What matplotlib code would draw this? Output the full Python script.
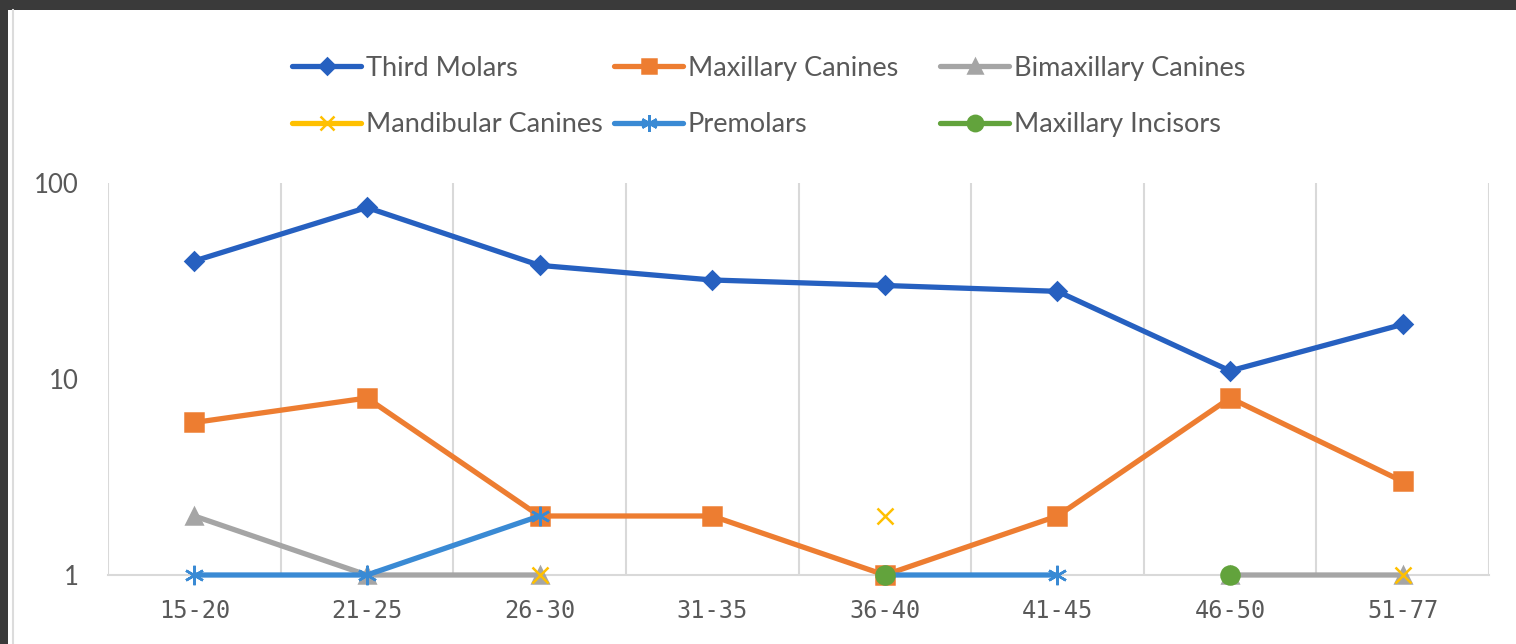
import numpy as np
import matplotlib
matplotlib.use('Agg')
import matplotlib.pyplot as plt
from matplotlib.patches import Rectangle
from matplotlib.lines import Line2D
from matplotlib.ticker import FixedLocator, NullLocator, FixedFormatter

plt.rcParams['font.family'] = ['Lato', 'DejaVu Sans']

nan = np.nan
age_groups = ['15-20', '21-25', '26-30', '31-35', '36-40', '41-45', '46-50', '51-77']

third_molars = [40, 75, 38, 32, 30, 28, 11, 19]
maxillary_canines = [6, 8, 2, 2, 1, 2, 8, 3]
bimaxillary_canines = [2, 1, 1, nan, nan, nan, 1, 1]
mandibular_canines = [nan, nan, 1, nan, 2, nan, nan, 1]
premolars = [1, 1, 2, nan, 1, 1, nan, nan]
maxillary_incisors = [nan, nan, nan, nan, 1, nan, 1, nan]

text_color = '#595959'
grid_color = '#d9d9d9'

# name, values, color, marker, markersize
series = [
    ('Third Molars', third_molars, '#2660c0', 'D', 9),
    ('Maxillary Canines', maxillary_canines, '#ed7d31', 's', 12.5),
    ('Bimaxillary Canines', bimaxillary_canines, '#a5a5a5', '^', 12),
    ('Mandibular Canines', mandibular_canines, '#ffc000', 'x', 12),
    ('Premolars', premolars, '#3a8ad4', (6, 2, 0), 14),
    ('Maxillary Incisors', maxillary_incisors, '#62a33c', 'o', 13),
]

fig = plt.figure(figsize=(15.16, 6.44), dpi=100)
fig.patch.set_facecolor('#3a3a3a')
fig.patches.append(Rectangle((8 / 1516, 0), 1 - 8 / 1516, 1 - 10 / 644,
                             transform=fig.transFigure, facecolor='white',
                             edgecolor='none', zorder=-10))
fig.lines.append(Line2D([12.5 / 1516, 12.5 / 1516], [0, 1 - 10 / 644],
                        transform=fig.transFigure, color='#dcdcdc', lw=1.5))

ax = fig.add_axes([108 / 1516, 1 - 575 / 644, (1489 - 108) / 1516, (575 - 183) / 644])
ax.set_facecolor('none')

x = np.arange(len(age_groups))
handles = {}
for name, vals, color, marker, ms in series:
    h, = ax.plot(x, vals, color=color, lw=3.8, marker=marker, markersize=ms,
                 markerfacecolor=color, markeredgecolor=color, markeredgewidth=1.8,
                 label=name, solid_capstyle='round', clip_on=False)
    handles[name] = h

ax.set_yscale('log')
ax.set_ylim(1, 100)
ax.set_xlim(-0.5, len(age_groups) - 0.5)
ax.yaxis.set_major_locator(FixedLocator([1, 10, 100]))
ax.yaxis.set_major_formatter(FixedFormatter(['1', '10', '100']))
ax.yaxis.set_minor_locator(NullLocator())
ax.set_xticks(x)
ax.set_xticklabels(age_groups, fontfamily='DejaVu Sans Mono')

# vertical category separators
for b in np.arange(-0.5, len(age_groups), 1.0):
    ax.axvline(b, color=grid_color, lw=1.5, zorder=0)

for s in ['top', 'right', 'left']:
    ax.spines[s].set_visible(False)
ax.spines['bottom'].set_color(grid_color)
ax.spines['bottom'].set_linewidth(1.5)
ax.spines['bottom'].set_zorder(0)

ax.tick_params(axis='y', length=0, pad=21, labelsize=18.5, labelcolor=text_color)
ax.tick_params(axis='x', length=0, pad=17, labelsize=17, labelcolor=text_color)

# legend in three columns, positioned like the original
cols = [
    (['Third Molars', 'Mandibular Canines'], 292),
    (['Maxillary Canines', 'Premolars'], 614),
    (['Bimaxillary Canines', 'Maxillary Incisors'], 940),
]
for names, xpx in cols:
    fig.legend([handles[n] for n in names], names, loc='center left',
               bbox_to_anchor=(xpx / 1516, 1 - 96.5 / 644),
               bbox_transform=fig.transFigure, frameon=False, fontsize=19.5,
               labelcolor=text_color, handlelength=2.55, handletextpad=0.18,
               labelspacing=1.15, borderpad=0, borderaxespad=0, markerscale=0.85)

fig.savefig('out.png', dpi=100, facecolor=fig.get_facecolor())
